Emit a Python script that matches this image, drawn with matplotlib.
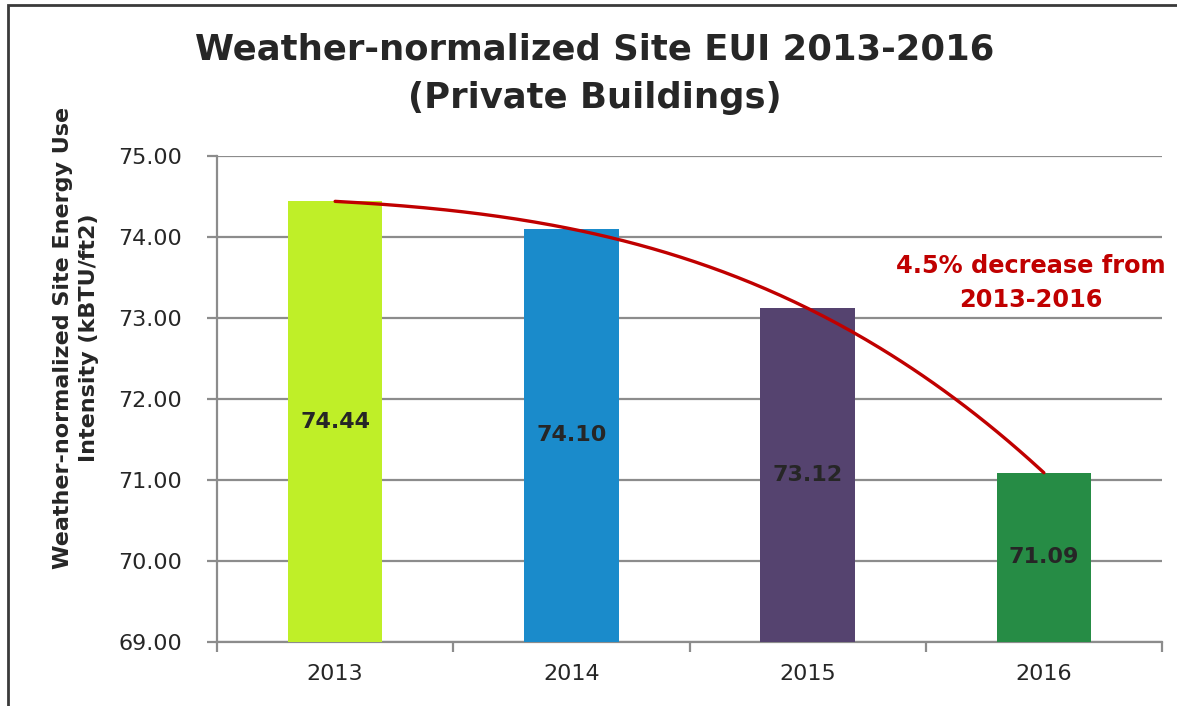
import matplotlib
matplotlib.use("Agg")
import matplotlib.pyplot as plt
import numpy as np
from matplotlib.lines import Line2D

plt.rcParams['font.family'] = ['DejaVu Sans']

years = ['2013', '2014', '2015', '2016']
eui = [74.44, 74.10, 73.12, 71.09]
bar_colors = ['#BFEF28', '#1A8BCB', '#55436F', '#268C45']
y_ticks = [69, 70, 71, 72, 73, 74, 75]
note = '4.5% decrease from\n2013-2016'

fig = plt.figure(figsize=(11.77, 7.06), dpi=100)
ax = fig.add_axes([217 / 1177, 64 / 706, 945 / 1177, 486 / 706])

x = np.arange(len(years))
ymin = 69
ax.bar(x, np.array(eui) - ymin, bottom=ymin, width=0.40, color=bar_colors, zorder=3)

# value labels in the middle of the visible bar
for xi, v in zip(x, eui):
    ax.text(xi, (ymin + v) / 2, f'{v:.2f}', ha='center', va='center',
            fontsize=16, fontweight='bold', color='#262626', zorder=5)

# smooth trend curve through the bar tops
xs = np.linspace(0, 3, 200)
coef = np.polyfit(x, eui, 3)
ax.plot(xs, np.polyval(coef, xs), color='#C00000', lw=2.4, zorder=4,
        solid_capstyle='round')

ax.text(2.943, 73.43, note, ha='center', va='center', fontsize=17.3,
        fontweight='bold', color='#C00000', linespacing=1.5, zorder=5)

ax.set_xlim(-0.5, 3.5)
ax.set_ylim(69, 75)
ax.set_yticks(y_ticks)
ax.set_yticklabels([f'{t:.2f}' for t in y_ticks])
ax.set_xticks(x)
ax.set_xticklabels(years)
ax.set_xticks(np.arange(-0.5, 4.0, 1.0), minor=True)

grid_c = '#8C8C8C'
ax.yaxis.grid(True, color=grid_c, lw=1.6, zorder=0)
ax.set_axisbelow(True)
for s in ['top', 'right']:
    ax.spines[s].set_visible(False)
for s in ['left', 'bottom']:
    ax.spines[s].set_color(grid_c)
    ax.spines[s].set_linewidth(1.6)

ax.tick_params(axis='y', length=7, width=1.6, color=grid_c, labelsize=16,
               labelcolor='#262626', pad=18)
ax.tick_params(axis='x', which='major', length=0, labelsize=16,
               labelcolor='#262626', pad=16)
ax.tick_params(axis='x', which='minor', length=7, width=1.6, color=grid_c)

fig.text(595 / 1177, 1 - 74 / 706,
         'Weather-normalized Site EUI 2013-2016\n(Private Buildings)',
         ha='center', va='center', fontsize=25.5, fontweight='bold',
         color='#262626', linespacing=1.55)

fig.text(76 / 1177, 1 - 338 / 706,
         'Weather-normalized Site Energy Use\nIntensity (kBTU/ft2)',
         ha='center', va='center', rotation=90, fontsize=16,
         fontweight='bold', color='#262626', linespacing=1.35)

# frame around the chart area (left and top edges visible)
fx = 7.5 / 1177
fy = 1 - 4.5 / 706
fig.add_artist(Line2D([fx, fx, 1.05], [-0.05, fy, fy], transform=fig.transFigure,
                      color='#3A3A3A', lw=2, solid_joinstyle='miter'))

fig.savefig('out.png', dpi=100)
